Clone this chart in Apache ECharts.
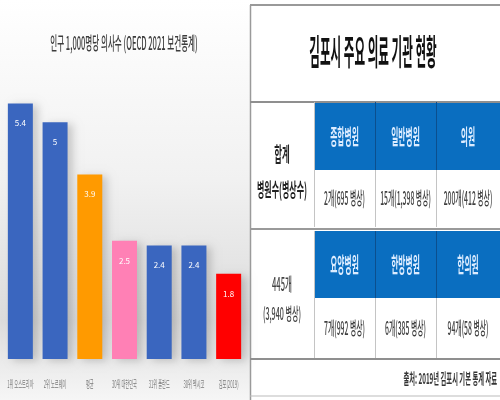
<!DOCTYPE html>
<html>
<head>
<meta charset="utf-8">
<script src="https://cdn.jsdelivr.net/npm/echarts@6/dist/echarts.min.js"></script>
<style>html,body{margin:0;padding:0;background:#fff;}#c{width:500px;height:400px;}</style>
</head>
<body>
<div id="c"></div>
<script>
// ---- data ----
const chartTitle = '인구 1,000명당 의사수 (OECD 2021 보건통계)';
const categories = ['1위 오스트리아', '2위 노르웨이', '평균', '30위 대한민국', '31위 폴란드', '38위 멕시코', '김포(2019)'];
const values = [5.4, 5, 3.9, 2.5, 2.4, 2.4, 1.8];

const tableTitle = '김포시 주요 의료 기관 현황';
const totalLabel = ['합계', '병원수(병상수)'];
const totalValue = ['445개', '(3,940 병상)'];
const headerRow1 = ['종합병원', '일반병원', '의원'];
const valueRow1 = ['2개(695 병상)', '15개(1,398 병상)', '200개(412 병상)'];
const headerRow2 = ['요양병원', '한방병원', '한의원'];
const valueRow2 = ['7개(992 병상)', '6개(385 병상)', '94개(58 병상)'];
const sourceText = '출처: 2019년 김포시 기본 통계 자료';

// ---- styles ----
const barColors = ['#3a66bf', '#3a66bf', '#ff9a00', '#ff80b5', '#3a66bf', '#3a66bf', '#ff0000'];
const FONT = '"Noto Sans CJK KR", "Noto Sans", sans-serif';
const BLUE = '#0a6ec0';

const chart = echarts.init(document.getElementById('c'), null, {renderer: 'canvas'});

function txt(x, y, text, size, opts) {
  opts = opts || {};
  return {
    type: 'text', x: x, y: y, scaleX: opts.sx || 0.45, z: 20,
    style: {
      x: 0, y: 0, text: text, fontSize: size, fontFamily: FONT,
      fontWeight: opts.bold ? 'bold' : (opts.weight || 'normal'),
      fill: opts.fill || '#333', align: opts.align || 'center', verticalAlign: 'middle'
    }
  };
}
function rect(x, y, w, h, fill, z) {
  return {type: 'rect', shape: {x: x, y: y, width: w, height: h}, style: {fill: fill}, z: z || 5, silent: true};
}
function line(x1, y1, x2, y2, stroke, w, z) {
  return {type: 'line', shape: {x1: x1, y1: y1, x2: x2, y2: y2}, style: {stroke: stroke, lineWidth: w}, z: z || 15, silent: true};
}

const graphics = [];
// left background
graphics.push({
  type: 'rect', shape: {x: 0, y: 0, width: 250, height: 400}, z: -10, silent: true,
  style: {fill: new echarts.graphic.LinearGradient(0, 0, 0, 1, [
    {offset: 0, color: '#ffffff'}, {offset: 0.45, color: '#f1f1f1'},
    {offset: 0.8, color: '#dcdcdc'}, {offset: 0.9, color: '#eaeaea'}, {offset: 1, color: '#f6f6f6'}
  ])}
});
graphics.push(txt(124, 43, chartTitle, 18, {sx: 0.42, fill: '#3c3c3c', weight: 500}));

// table
const colX = [250, 314, 375, 436, 500];
graphics.push(rect(250, 0, 250, 400, '#ffffff', 1));
graphics.push(line(250, 5, 500, 5, '#999', 2));
graphics.push(line(250.5, 5, 250.5, 400, '#9a9a9a', 1.5));
graphics.push(txt(373, 52, tableTitle, 35, {sx: 0.33, bold: true, fill: '#111'}));
graphics.push(line(250, 102, 500, 102, '#8f8f8f', 2));

const rows = [
  {hy: 102, hh: 68, vy: 170, vh: 57, heads: headerRow1, vals: valueRow1},
  {hy: 231, hh: 67, vy: 298, vh: 60, heads: headerRow2, vals: valueRow2}
];
rows.forEach(function (r) {
  for (let i = 0; i < 3; i++) {
    const x0 = colX[i + 1], x1 = colX[i + 2];
    graphics.push(rect(x0, r.hy, x1 - x0, r.hh, BLUE, 5));
    graphics.push(txt((x0 + x1) / 2, r.hy + r.hh / 2, r.heads[i], 21, {sx: 0.37, bold: true, fill: '#dcecff'}));
    graphics.push(txt((x0 + x1) / 2, r.vy + r.vh / 2, r.vals[i], 18, {sx: 0.38, fill: '#3f3f3f', weight: 500}));
    if (i > 0) {
      graphics.push(line(x0 + 0.5, r.hy, x0 + 0.5, r.hy + r.hh, '#0b4f8e', 1));
      graphics.push(line(x0 + 0.5, r.vy, x0 + 0.5, r.vy + r.vh, '#c4c4c4', 1));
    }
  }
  graphics.push(line(314.5, r.hy, 314.5, r.vy + r.vh, '#c4c4c4', 1));
});
graphics.push(line(250, 229, 500, 229, '#9a9a9a', 2));
graphics.push(line(250, 359, 500, 359, '#8f8f8f', 2));
graphics.push(txt(282, 154, totalLabel[0], 20, {sx: 0.42, bold: true, fill: '#222'}));
graphics.push(txt(282, 190, totalLabel[1], 19, {sx: 0.42, bold: true, fill: '#222'}));
graphics.push(txt(282, 284, totalValue[0], 18, {sx: 0.42, fill: '#444', weight: 500}));
graphics.push(txt(282, 314, totalValue[1], 17, {sx: 0.42, fill: '#444', weight: 500}));
graphics.push(txt(497, 378, sourceText, 15, {sx: 0.42, bold: true, fill: '#333', align: 'right'}));
graphics.push(line(250, 396, 500, 396, '#bbbbbb', 1));

const option = {
  animation: false,
  backgroundColor: 'transparent',
  graphic: graphics,
  grid: {left: 3, width: 243, top: 75, height: 284},
  xAxis: {
    type: 'category', data: categories,
    axisLine: {show: false}, axisTick: {show: false}, axisLabel: {show: false}
  },
  yAxis: {type: 'value', min: 0, max: 6, show: false, splitLine: {show: false}},
  series: [
    {
      type: 'bar', data: values.map(function (v, i) { return {value: v, itemStyle: {color: barColors[i]}}; }),
      barWidth: 25,
      itemStyle: {shadowColor: 'rgba(0,0,0,0.18)', shadowBlur: 8, shadowOffsetX: 5, shadowOffsetY: 2},
      label: {show: true, position: 'insideTop', distance: 16, color: '#ffffff', fontSize: 8, fontFamily: FONT}
    },
    {
      type: 'custom', silent: true,
      data: categories.map(function (c, i) { return [i, 0]; }),
      renderItem: function (params, api) {
        const p = api.coord([api.value(0), 0]);
        return {
          type: 'text', x: p[0], y: p[1] + 25, scaleX: 0.42,
          style: {x: 0, y: 0, text: categories[params.dataIndex], fontSize: 10, fontFamily: FONT,
                  fill: '#7a7a7a', align: 'center', verticalAlign: 'middle'}
        };
      }
    }
  ]
};
chart.setOption(option);
</script>
</body>
</html>
